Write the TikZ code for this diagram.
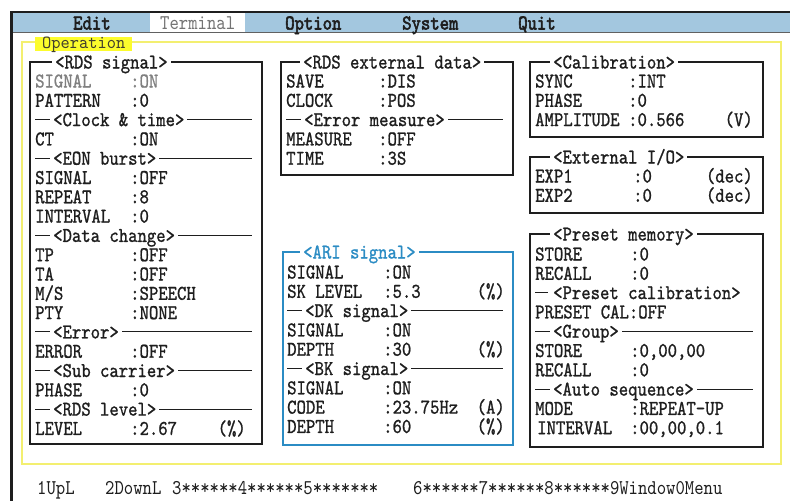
\documentclass[tikz,border=0pt]{standalone}
\usepackage{fontspec}
\newfontfamily\lmtA[FakeStretch=0.85,FakeBold=1.0]{lmmono10-regular.otf}
\newfontfamily\lmtB[FakeStretch=0.85]{lmmono10-regular.otf}
\newfontfamily\lmtC[FakeStretch=0.85,FakeBold=2.6]{lmmono10-regular.otf}
\newfontfamily\lmtD[FakeStretch=0.95]{lmmono10-regular.otf}
\newcommand\termf{\lmtA\fontsize{21}{21}\selectfont}
\newcommand\termthin{\lmtB\fontsize{21}{21}\selectfont}
\newcommand\termbold{\lmtC\fontsize{21}{21}\selectfont}
\newcommand\termlab{\lmtD\fontsize{18.5}{18.5}\selectfont}
\definecolor{menublue}{HTML}{A3C7DF}
\definecolor{frameyel}{HTML}{F3EF70}
\definecolor{labyel}{HTML}{FCFC2C}
\definecolor{ariblue}{HTML}{2B8CC4}
\definecolor{ink}{HTML}{1E1E1E}
\tikzset{
  txt/.style={anchor=base west, inner sep=0pt, font=\termf, text=ink},
  ttl/.style={txt, fill=white, inner xsep=3pt},
  menutxt/.style={txt, font=\termbold, text depth=0pt},
  boxline/.style={draw=ink, line width=1.6pt},
  subline/.style={draw=ink, line width=0.9pt},
}
% name, xlabel, ycenter, label, xcolon, value
\newcommand\kvrow[6]{%
  \node[txt] (#1k) at (#2,#3+6.5) {#4};
  \node[txt] (#1v) at (#5,#3+6.5) {:#6};}
% name, xright, ycenter, text
\newcommand\unitr[4]{\node[txt,anchor=base east] (#1) at (#2,#3+6.5) {#4};}
% name, xstart, ycenter, text, xend
\newcommand\subhead[5]{%
  \draw[subline] (#2,#3) -- (#5,#3);
  \node[ttl] (#1) at (#2+15,#3+6.5) {#4};}
% name, xtext, ycenter, text, colour
\newcommand\ttlnode[5]{\node[ttl,text=#5] (#1) at (#2-3,#3+6.5) {#4};}
\begin{document}
\begin{tikzpicture}[x=1pt,y=-1pt]
\useasboundingbox (0,0) rectangle (790,501);
\fill[white] (0,0) rectangle (790,501);
% menu bar
\fill[menublue] (12,12) rectangle (790,32);
\fill[white] (150,13) rectangle (245,32);
\draw[ink, line width=1.8pt] (10,12) -- (790,12);
\draw[ink!70, line width=0.8pt] (12,32.5) -- (790,32.5);
\draw[ink, line width=3pt] (11.5,11) -- (11.5,501);
\node[menutxt] (mEdit) at (73,29.5) {Edit};
\node[menutxt, font=\termthin, text=black!55] (mTerm) at (160,29.5) {Terminal};
\node[menutxt] (mOpt) at (285,29.5) {Option};
\node[menutxt] (mSys) at (402,29.5) {System};
\node[menutxt] (mQuit) at (518,29.5) {Quit};
% yellow frame
\draw[frameyel, line width=2.6pt] (22,42) rectangle (781,464);
\node[txt, fill=labyel, inner xsep=7pt, inner ysep=0.5pt, text height=11.5pt, text depth=1.5pt, font=\termlab, text=black!70!olive] (oper) at (35,48.5) {Operation};

% ---------- Box 1 : RDS signal ----------
\draw[boxline] (30,62) rectangle (262,444);
\ttlnode{t1}{55}{62}{<RDS signal>}{ink}
\node[txt, text=black!50] (b1r0k) at (35,81+6.5) {SIGNAL};
\node[txt, text=black!50] (b1r0v) at (130,81+6.5) {:ON};
\kvrow{b1r1}{35}{81+19.3*1}{PATTERN}{130}{0}
\subhead{b1s2}{35}{81+19.3*2}{<Clock \& time>}{252}
\kvrow{b1r3}{35}{81+19.3*3}{CT}{130}{ON}
\subhead{b1s4}{35}{81+19.3*4}{<EON burst>}{252}
\kvrow{b1r5}{35}{81+19.3*5}{SIGNAL}{130}{OFF}
\kvrow{b1r6}{35}{81+19.3*6}{REPEAT}{130}{8}
\kvrow{b1r7}{35}{81+19.3*7}{INTERVAL}{130}{0}
\subhead{b1s8}{35}{81+19.3*8}{<Data change>}{252}
\kvrow{b1r9}{35}{81+19.3*9}{TP}{130}{OFF}
\kvrow{b1r10}{35}{81+19.3*10}{TA}{130}{OFF}
\kvrow{b1r11}{35}{81+19.3*11}{M/S}{130}{SPEECH}
\kvrow{b1r12}{35}{81+19.3*12}{PTY}{130}{NONE}
\subhead{b1s13}{35}{81+19.3*13}{<Error>}{252}
\kvrow{b1r14}{35}{81+19.3*14}{ERROR}{130}{OFF}
\subhead{b1s15}{35}{81+19.3*15}{<Sub carrier>}{252}
\kvrow{b1r16}{35}{81+19.3*16}{PHASE}{130}{0}
\subhead{b1s17}{35}{81+19.3*17}{<RDS level>}{252}
\kvrow{b1r18}{35}{81+19.3*18}{LEVEL}{130}{2.67}
\unitr{b1u18}{246}{81+19.3*18}{(\%)}

% ---------- Box 2 : RDS external data ----------
\draw[boxline] (281,62) rectangle (513,175);
\ttlnode{t2}{303}{62}{<RDS external data>}{ink}
\kvrow{b2r0}{286}{81}{SAVE}{378}{DIS}
\kvrow{b2r1}{286}{81+19.3*1}{CLOCK}{378}{POS}
\subhead{b2s2}{286}{81+19.3*2}{<Error measure>}{503}
\kvrow{b2r3}{286}{81+19.3*3}{MEASURE}{378}{OFF}
\kvrow{b2r4}{286}{81+19.3*4}{TIME}{378}{3S}

% ---------- Box 3 : ARI signal ----------
\draw[boxline, draw=ariblue] (283,252) rectangle (513,445);
\ttlnode{t3}{303}{252}{<ARI signal>}{ariblue}
\kvrow{b3r0}{287}{272}{SIGNAL}{383}{ON}
\kvrow{b3r1}{287}{272+19.3*1}{SK LEVEL}{383}{5.3}
\unitr{b3u1}{505}{272+19.3*1}{(\%)}
\subhead{b3s2}{287}{272+19.3*2}{<DK signal>}{503}
\kvrow{b3r3}{287}{272+19.3*3}{SIGNAL}{383}{ON}
\kvrow{b3r4}{287}{272+19.3*4}{DEPTH}{383}{30}
\unitr{b3u4}{505}{272+19.3*4}{(\%)}
\subhead{b3s5}{287}{272+19.3*5}{<BK signal>}{503}
\kvrow{b3r6}{287}{272+19.3*6}{SIGNAL}{383}{ON}
\kvrow{b3r7}{287}{272+19.3*7}{CODE}{383}{23.75Hz}
\unitr{b3u7}{505}{272+19.3*7}{(A)}
\kvrow{b3r8}{287}{272+19.3*8}{DEPTH}{383}{60}
\unitr{b3u8}{505}{272+19.3*8}{(\%)}

% ---------- Box 4 : Calibration ----------
\draw[boxline] (530,62) rectangle (763,137);
\ttlnode{t4}{553}{62}{<Calibration>}{ink}
\kvrow{b4r0}{535}{81}{SYNC}{628}{INT}
\kvrow{b4r1}{535}{81+19.3*1}{PHASE}{628}{0}
\kvrow{b4r2}{535}{81+19.3*2}{AMPLITUDE}{628}{0.566}
\unitr{b4u2}{753}{81+19.3*2}{(V)}

% ---------- Box 5 : External I/O ----------
\draw[boxline] (530,157) rectangle (763,213);
\ttlnode{t5}{553}{157}{<External I/O>}{ink}
\kvrow{b5r0}{535}{176}{EXP1}{633}{0}
\unitr{b5u0}{753}{176}{(dec)}
\kvrow{b5r1}{535}{176+19.3}{EXP2}{633}{0}
\unitr{b5u1}{753}{176+19.3}{(dec)}

% ---------- Box 6 : Preset memory ----------
\draw[boxline] (530,234) rectangle (763,447);
\ttlnode{t6}{553}{234}{<Preset memory>}{ink}
\kvrow{b6r0}{535}{254}{STORE}{630}{0}
\kvrow{b6r1}{535}{254+19.3*1}{RECALL}{630}{0}
\subhead{b6s2}{535}{254+19.3*2}{<Preset calibration>}{548}
\node[txt] (b6r3) at (535,254+19.3*3+6.5) {PRESET CAL:OFF};
\subhead{b6s4}{535}{254+19.3*4}{<Group>}{753}
\kvrow{b6r5}{535}{254+19.3*5}{STORE}{630}{0,00,00}
\kvrow{b6r6}{535}{254+19.3*6}{RECALL}{630}{0}
\subhead{b6s7}{535}{254+19.3*7}{<Auto sequence>}{753}
\kvrow{b6r8}{535}{254+19.3*8}{MODE}{630}{REPEAT-UP}
\kvrow{b6r9}{537}{254+19.3*9}{INTERVAL}{630}{00,00,0.1}

% ---------- function keys ----------
\node[txt, font=\termthin] (f1) at (37,494) {1UpL};
\node[txt, font=\termthin] (f2) at (105,494) {2DownL};
\node[txt, font=\termthin] (f3) at (172,494) {3******4******5*******};
\node[txt, font=\termthin] (f6) at (413,494) {6******7******8******9Window0Menu};
\end{tikzpicture}
\end{document}
